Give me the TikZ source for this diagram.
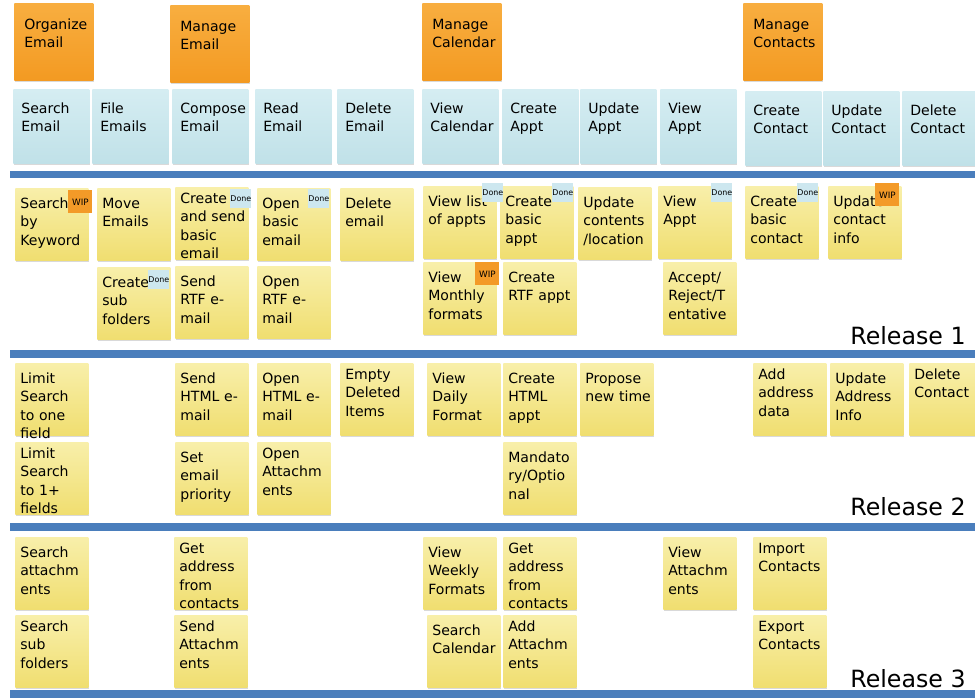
\documentclass[tikz,border=0pt]{standalone}
\usepackage{fontspec}
\setmainfont{DejaVu Sans}
\usepackage{xcolor}
\usepackage{tikz}
\usetikzlibrary{shadows}
\definecolor{epictop}{HTML}{F8AE40}
\definecolor{epicbot}{HTML}{F39A22}
\definecolor{feattop}{HTML}{D5EDF2}
\definecolor{featbot}{HTML}{C0E1E8}
\definecolor{storytop}{HTML}{F8EFAA}
\definecolor{storybot}{HTML}{F0DE70}
\definecolor{donecol}{HTML}{CDE7EF}
\definecolor{wipcol}{HTML}{F39A28}
\definecolor{barblue}{HTML}{4A7EBC}
\hyphenpenalty=10000
\exhyphenpenalty=10000

\begin{document}
\begin{tikzpicture}[
  x=0.02cm,y=-0.02cm,
  font=\fontsize{8}{10.5}\selectfont,
  card/.style={anchor=north west,align=left,inner ysep=1mm,
    drop shadow={shadow xshift=0.3pt,shadow yshift=-1.2pt,opacity=0.3}},
  epic/.style={card,top color=epictop,bottom color=epicbot,inner xsep=2mm,
    text width=11.8mm,text height=4.2mm,text depth=9.2mm},
  feature/.style={card,top color=feattop,bottom color=featbot,inner xsep=1.6mm,
    text width=12mm,text height=3.8mm,text depth=9mm},
  story/.style={card,top color=storytop,bottom color=storybot,inner xsep=1mm,
    text width=12.6mm,text height=3mm,text depth=9.4mm},
  tall/.style={text height=2.2mm,text depth=10.2mm},
  done/.style={anchor=north west,fill=donecol,minimum width=4.2mm,minimum height=3.8mm,
    inner sep=0pt,font=\fontsize{4.5}{5}\selectfont},
  wip/.style={anchor=north west,fill=wipcol,minimum width=4.8mm,minimum height=4.6mm,
    inner sep=0pt,font=\fontsize{5}{6}\selectfont},
  relbar/.style={fill=barblue},
  release/.style={anchor=base east,inner sep=0pt,font=\fontsize{13.5}{15}\selectfont}
]
\useasboundingbox (0,0) rectangle (975,699);

\node[epic] (org) at (14,3) {Organize\\Email};
\node[epic] (mge) at (170,5) {Manage\\Email};
\node[epic] (mgc) at (422,3) {Manage\\Calendar};
\node[epic] (mgk) at (743,3) {Manage\\Contacts};

\node[feature] (se) at (13,89) {Search\\Email};
\node[feature] (fe) at (92,89) {File\\Emails};
\node[feature] (ce) at (172,89) {Compose\\Email};
\node[feature] (re) at (255,89) {Read\\Email};
\node[feature] (de) at (337,89) {Delete\\Email};
\node[feature] (vc) at (422,89) {View\\Calendar};
\node[feature] (ca) at (502,89) {Create\\Appt};
\node[feature] (ua) at (580,89) {Update\\Appt};
\node[feature] (va) at (660,89) {View\\Appt};
\node[feature] (cc) at (745,91) {Create\\Contact};
\node[feature] (uc) at (823,91) {Update\\Contact};
\node[feature] (dc) at (902,91) {Delete\\Contact};

\fill[relbar] (10,171) rectangle (975,178);
\fill[relbar] (10,350) rectangle (975,358);
\fill[relbar] (10,523) rectangle (975,531);
\fill[relbar] (10,690) rectangle (975,698);

\node[story] (kw) at (15,188) {Search\\by\\Keyword};
\node[story] (mv) at (97,188) {Move\\Emails};
\node[story,tall] (cs) at (175,187) {Create\\and~send\\basic\\email};
\node[story] (ob) at (257,188) {Open\\basic\\email};
\node[story] (dm) at (340,188) {Delete\\email};
\node[story] (vl) at (423,186) {View~list\\of~appts};
\node[story] (cb) at (500,186) {Create\\basic\\appt};
\node[story] (uloc) at (578,187) {Update\\contents\\/location};
\node[story] (vw) at (658,186) {View\\Appt};
\node[story] (cbc) at (745,186) {Create\\basic\\contact};
\node[story] (uci) at (828,186) {Update\\contact\\info};
\node[story] (sub) at (97,267) {Create\\sub\\folders};
\node[story] (srtf) at (175,266) {Send\\RTF~e-\\mail};
\node[story] (ortf) at (257,266) {Open\\RTF~e-\\mail};
\node[story] (vmo) at (423,262) {View\\Monthly\\formats};
\node[story] (crtf) at (503,262) {Create\\RTF~appt};
\node[story] (acc) at (663,262) {Accept/\\Reject/T\\entative};

\node[wip] (kwwip) at (68,190) {WIP};
\node[done] (csdone) at (230,189) {Done};
\node[done] (obdone) at (308,189) {Done};
\node[done] (vldone) at (482,183) {Done};
\node[done] (cbdone) at (552,183) {Done};
\node[done] (vwdone) at (711,183) {Done};
\node[done] (cbcdone) at (797,183) {Done};
\node[wip] (uciwip) at (875,183) {WIP};
\node[done] (subdone) at (148,270) {Done};
\node[wip] (vmowip) at (475,262) {WIP};
\node[release] (rel1) at (966,345) {Release 1};

\node[story] (lone) at (15,363) {Limit\\Search\\to~one\\field};
\node[story] (shtml) at (175,363) {Send\\HTML~e-\\mail};
\node[story] (ohtml) at (257,363) {Open\\HTML~e-\\mail};
\node[story,tall] (empty) at (340,363) {Empty\\Deleted\\Items};
\node[story] (vday) at (427,363) {View\\Daily\\Format};
\node[story] (chtml) at (503,363) {Create\\HTML\\appt};
\node[story] (prop) at (580,363) {Propose\\new~time};
\node[story,tall] (addr) at (753,363) {Add\\address\\data};
\node[story] (uaddr) at (830,363) {Update\\Address\\Info};
\node[story,tall] (dcon) at (909,363) {Delete\\Contact};
\node[story,tall] (lmany) at (15,442) {Limit\\Search\\to~1+\\fields};
\node[story] (prio) at (175,442) {Set\\email\\priority};
\node[story,tall] (oatt) at (257,442) {Open\\Attachm\\ents};
\node[story] (mand) at (503,442) {Mandato\\ry/Optio\\nal};
\node[release] (rel2) at (966,516) {Release 2};

\node[story] (satt) at (15,537) {Search\\attachm\\ents};
\node[story,tall] (gaddr) at (174,537) {Get\\address\\from\\contacts};
\node[story] (vweek) at (423,537) {View\\Weekly\\Formats};
\node[story,tall] (gaddrc) at (503,537) {Get\\address\\from\\contacts};
\node[story] (vatt) at (663,537) {View\\Attachm\\ents};
\node[story,tall] (imp) at (753,537) {Import\\Contacts};
\node[story,tall] (ssub) at (15,615) {Search\\sub\\folders};
\node[story,tall] (sendatt) at (174,615) {Send\\Attachm\\ents};
\node[story] (scal) at (427,615) {Search\\Calendar};
\node[story,tall] (addatt) at (503,615) {Add\\Attachm\\ents};
\node[story,tall] (exp) at (753,615) {Export\\Contacts};
\node[release] (rel3) at (966,687) {Release 3};
\end{tikzpicture}
\end{document}
